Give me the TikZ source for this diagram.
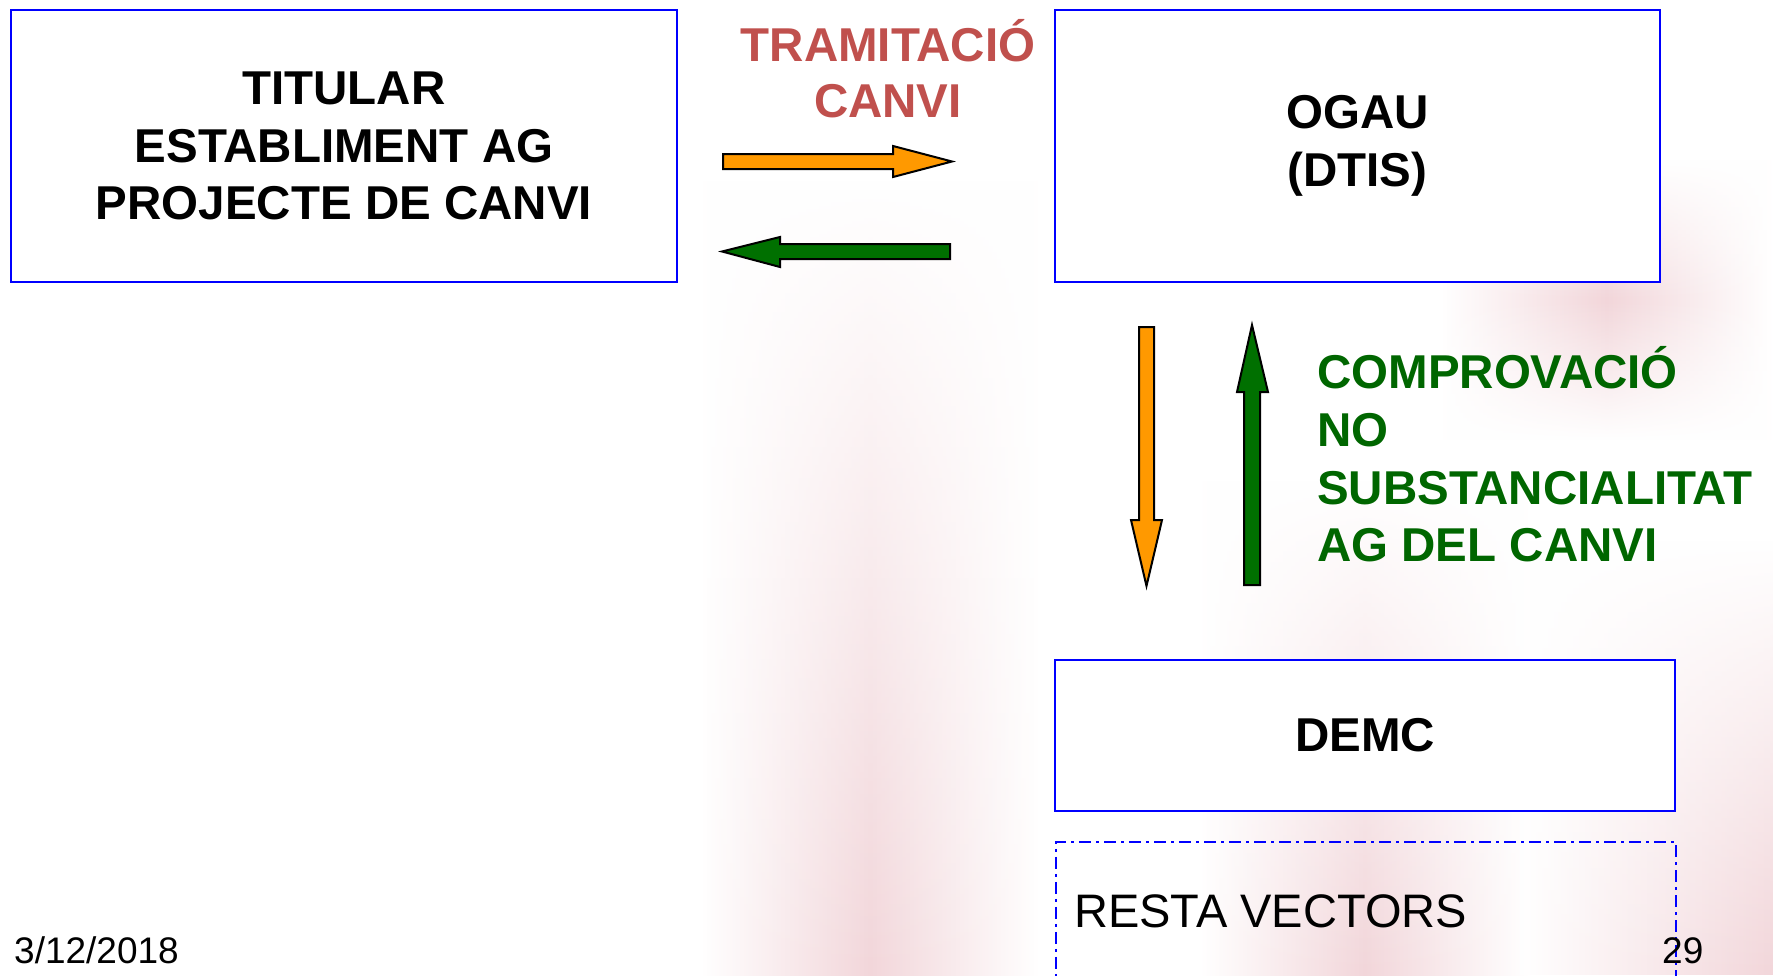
\documentclass[tikz,border=0pt]{standalone}
\usepackage{fontspec}
\setmainfont{Liberation Sans}
\usetikzlibrary{fadings}
\definecolor{boxblue}{RGB}{0,0,255}
\definecolor{tramred}{RGB}{192,80,77}
\definecolor{txtgreen}{RGB}{0,102,0}
\definecolor{arrgreen}{RGB}{0,112,0}
\definecolor{arrorange}{RGB}{255,153,0}
\definecolor{pinkbg}{RGB}{242,214,218}
\tikzfading[name=fadeboth, top color=transparent!100, bottom color=transparent!100, middle color=transparent!0]
\begin{document}
\begin{tikzpicture}[x=1pt,y=-1pt,
  box/.style={draw=boxblue, line width=2pt, fill=white, inner sep=0pt},
  restabox/.style={draw=boxblue, line width=1.6pt, dash pattern=on 12pt off 5pt on 3pt off 5pt, inner sep=0pt},
  bigbold/.style={font=\fontsize{47.5}{57.5}\selectfont\bfseries, align=center},
  lbl/.style={font=\fontsize{47.5}{57.5}\selectfont\bfseries, inner sep=0pt},
  plain/.style={font=\fontsize{47}{56}\selectfont, inner sep=0pt},
  small/.style={font=\fontsize{37}{44}\selectfont, inner sep=0pt},
  blockarrow/.style={draw=black, line width=2pt, line join=miter},
  band/.style={left color=white, right color=white, middle color=pinkbg, path fading=north}]
\useasboundingbox (0,0) rectangle (1773,975);
\fill[white] (0,0) rectangle (1773,975);
% faint background watermark bands
\shade[band] (700,180) rectangle (1040,975);
\shade[left color=white, right color=white, middle color=pinkbg, path fading=fadeboth] (1440,160) rectangle (1773,440);
\shade[band] (1200,480) rectangle (1530,975);
\shade[left color=white, right color=pinkbg, path fading=north] (1520,540) rectangle (1773,975);

% boxes
\node[box, bigbold, minimum width=666, minimum height=272] (titular) at (344,146)
  {TITULAR\\ESTABLIMENT AG\\PROJECTE DE CANVI};
\node[box, bigbold, minimum width=605, minimum height=272] (ogau) at (1357.5,146)
  {OGAU\\(DTIS)};
\node[box, bigbold, minimum width=620, minimum height=151] (demc) at (1365,735.5)
  {DEMC};
\node[restabox, minimum width=620, minimum height=170, anchor=north west] (resta) at (1055,841) {};
\node[plain, anchor=base west] (restatxt) at (1074,927) {RESTA VECTORS};

% labels
\node[lbl, text=tramred, anchor=base] (tram1) at (888,61) {TRAMITACIÓ};
\node[lbl, text=tramred, anchor=base] (tram2) at (888,117) {CANVI};
\node[lbl, text=txtgreen, anchor=base west] (comp1) at (1317,388) {COMPROVACIÓ};
\node[lbl, text=txtgreen, anchor=base west] (comp2) at (1317,446) {NO};
\node[lbl, text=txtgreen, anchor=base west] (comp3) at (1317,504) {SUBSTANCIALITAT};
\node[lbl, text=txtgreen, anchor=base west] (comp4) at (1317,561) {AG DEL CANVI};

% block arrows
\draw[blockarrow, fill=arrorange] (723,154) -- (893,154) -- (893,146) -- (952,161.5)
  -- (893,177) -- (893,169) -- (723,169) -- cycle;
\draw[blockarrow, fill=arrgreen] (950,244) -- (780,244) -- (780,237) -- (722,251.5)
  -- (780,267) -- (780,259) -- (950,259) -- cycle;
\draw[blockarrow, fill=arrorange] (1139,327) -- (1154,327) -- (1154,520) -- (1162,520)
  -- (1146.5,586) -- (1131,520) -- (1139,520) -- cycle;
\draw[blockarrow, fill=arrgreen] (1244,585) -- (1244,392) -- (1237,392) -- (1252,325)
  -- (1268,392) -- (1260,392) -- (1260,585) -- cycle;

% footer
\node[small, anchor=base west] (date) at (14,963) {3/12/2018};
\node[small, anchor=base west] (page) at (1662,963) {29};
\end{tikzpicture}
\end{document}
